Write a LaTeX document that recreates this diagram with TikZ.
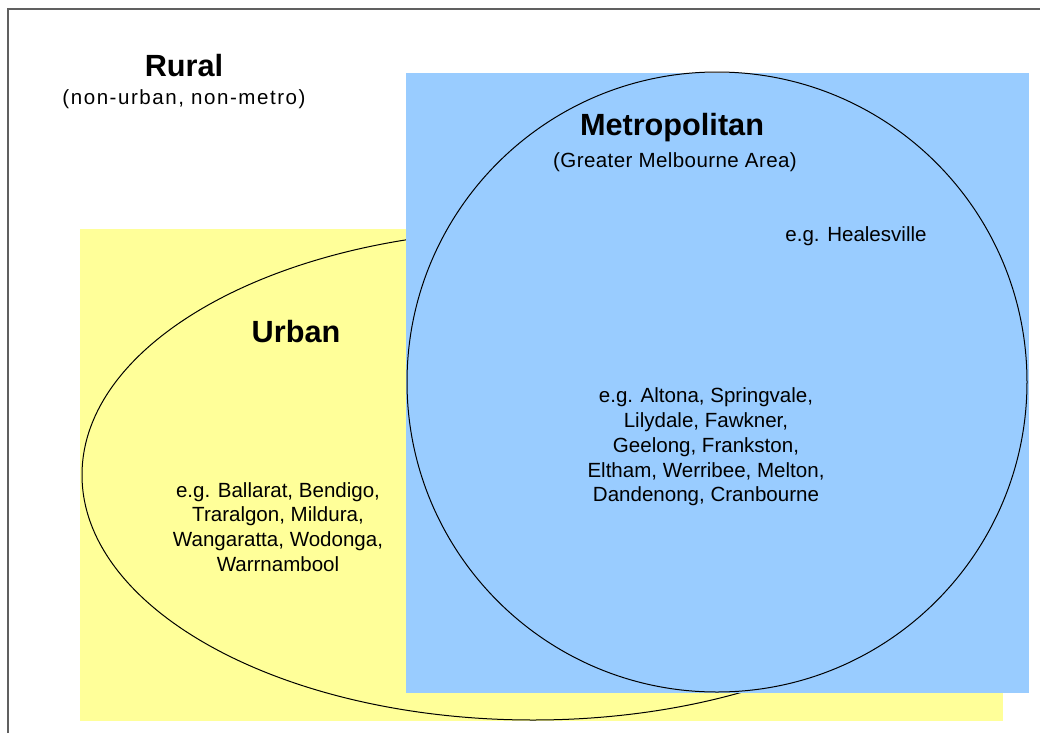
\documentclass[tikz,border=0pt]{standalone}
\usepackage{fontspec}
\setmainfont{Liberation Sans}
\definecolor{ruralyellow}{HTML}{FFFF99}
\definecolor{metroblue}{HTML}{99CCFF}
\definecolor{framegray}{HTML}{606060}
\begin{document}
\begin{tikzpicture}[x=0.75pt,y=-0.75pt,
  title/.style={font=\fontsize{23}{27}\selectfont\bfseries, inner sep=0pt},
  label/.style={font=\fontsize{15.4}{18.6}\selectfont, inner sep=0pt, align=center},
  outline/.style={draw=black, line width=0.75pt}]
\useasboundingbox (0,0) rectangle (1040,733);
\fill[white] (0,0) rectangle (1040,733);
% frame
\draw[framegray, line width=1.2pt] (8,733) -- (8,9) -- (1040,9);
% urban region
\fill[ruralyellow] (80,229) rectangle (1003,721);
\draw[outline] (533,475) ellipse [x radius=338.25pt, y radius=183.75pt];
% metropolitan region
\fill[metroblue] (406,73) rectangle (1029,693);
\draw[outline] (717,382) circle [radius=232.5pt];
% texts
\node[title] (rural) at (184,66) {Rural};
\node[label] (ruralsub) at (184,99) {\addfontfeature{LetterSpace=7.5}(non-urban, non-metro)};
\node[title] (metro) at (672,128) {Metropolitan};
\node[label] (metrosub) at (675,162) {\addfontfeature{LetterSpace=2}(Greater Melbourne Area)};
\node[label] (heal) at (856,236) {e.g. Healesville};
\node[title] (urban) at (296,332) {Urban};
\node[label] (metroex) at (706,447) {e.g. Altona, Springvale,\\Lilydale, Fawkner,\\Geelong, Frankston,\\Eltham, Werribee, Melton,\\Dandenong, Cranbourne};
\node[label] (urbanex) at (278,527) {e.g. Ballarat, Bendigo,\\Traralgon, Mildura,\\Wangaratta, Wodonga,\\Warrnambool};
\end{tikzpicture}
\end{document}
